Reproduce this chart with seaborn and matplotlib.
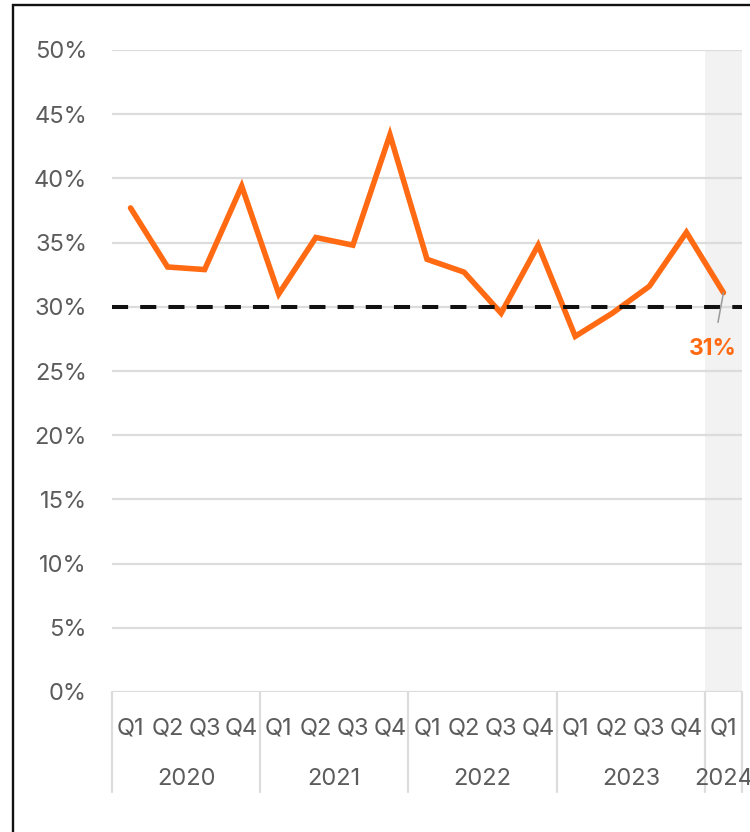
import matplotlib
matplotlib.use("Agg")
import matplotlib.pyplot as plt
import matplotlib.transforms as mtransforms
from matplotlib.patches import Rectangle
import pandas as pd
import seaborn as sns

# Quarterly share, 2020 Q1 – 2024 Q1
years = ["2020"] * 4 + ["2021"] * 4 + ["2022"] * 4 + ["2023"] * 4 + ["2024"]
quarters = ["Q1", "Q2", "Q3", "Q4"] * 4 + ["Q1"]
share = [37.7, 33.1, 32.9, 39.4, 31.0, 35.4, 34.8, 43.4, 33.7, 32.7,
         29.5, 34.8, 27.7, 29.5, 31.6, 35.8, 31.1]
benchmark = 30
yticks = [0, 5, 10, 15, 20, 25, 30, 35, 40, 45, 50]
ytick_labels = [f"{t}%" for t in yticks]

ORANGE = "#FF6A13"
TEXT = "#5c5c5c"
GRID = "#dcdcdc"
FS = 17

sns.set_theme(style="white")
plt.rcParams["font.family"] = ["Inter", "DejaVu Sans"]

df = pd.DataFrame({
    "period": [f"{y} {q}" for y, q in zip(years, quarters)],
    "share": share,
})
n = len(df)

W, H = 750, 832
fig = plt.figure(figsize=(W / 100, H / 100), dpi=100)
ax = fig.add_axes([112 / W, 1 - 692 / H, 630 / W, 642 / H])

# latest quarter highlighted
ax.axvspan(n - 1.5, n - 0.5, color="#f2f2f2", lw=0, zorder=0)

ax.set_axisbelow(True)
ax.grid(axis="y", color=GRID, lw=1.6)
ax.grid(axis="x", visible=False)

sns.lineplot(data=df, x="period", y="share", sort=False, color=ORANGE,
             lw=4.0, ax=ax, zorder=3)
for line in ax.lines:
    line.set_solid_joinstyle("miter")

ax.axhline(benchmark, color="#111111", lw=2.9, dashes=(4, 3),
           dash_capstyle="butt", zorder=4)

ax.set_xlim(-0.5, n - 0.5)
ax.set_ylim(0, 50)
ax.set_yticks(yticks)
ax.set_yticklabels(ytick_labels)
ax.set_xticks(range(n))
ax.set_xticklabels(quarters)
ax.tick_params(axis="y", length=0, pad=18, labelsize=FS, labelcolor=TEXT)
ax.tick_params(axis="x", length=0, pad=18, labelsize=FS, labelcolor=TEXT)
ax.set_xlabel("")
ax.set_ylabel("")
sns.despine(ax=ax, left=True, bottom=True)

# two-level category axis: year separators and year labels
trans = mtransforms.blended_transform_factory(ax.transData, ax.transAxes)
edges = [-0.5] + [i - 0.5 for i in range(1, n) if years[i] != years[i - 1]] + [n - 0.5]
for e in edges:
    ax.plot([e, e], [0, -0.156], transform=trans, color=GRID, lw=1.6,
            clip_on=False, zorder=1)
for yr in dict.fromkeys(years):
    idx = [i for i, y in enumerate(years) if y == yr]
    ax.text(sum(idx) / len(idx), -0.136, yr, transform=trans, ha="center",
            va="center", fontsize=FS, color=TEXT)

# value label for the latest point
ax.annotate(f"{share[-1]:.0f}%", xy=(n - 1, share[-1]), xytext=(-7.5, -40.5),
            textcoords="offset points", ha="center", va="center",
            fontsize=16.5, fontweight="bold", color=ORANGE,
            arrowprops=dict(arrowstyle="-", color="#9a9a9a", lw=1.1,
                            shrinkA=9, shrinkB=0),
            zorder=5)

# frame around the figure
fig.patches.append(Rectangle((12.8 / W, -0.05), 1.2, 1.05 - 5.5 / H,
                             transform=fig.transFigure, fill=False,
                             edgecolor="#111111", lw=1.7))

fig.savefig("out.png", dpi=100)
